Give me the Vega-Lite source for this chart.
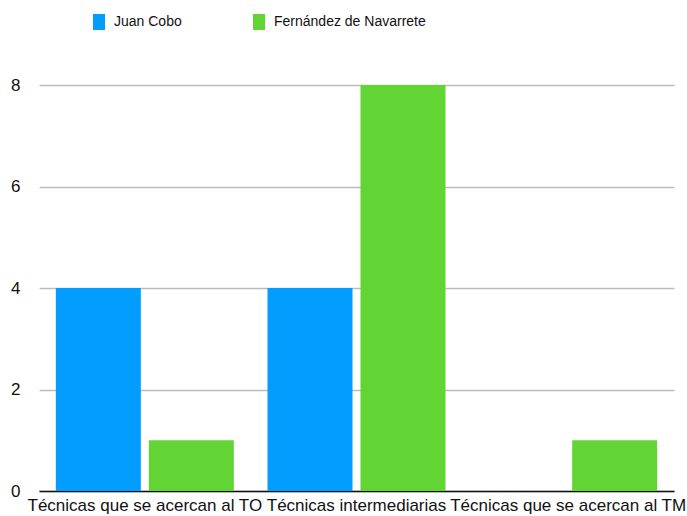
{
  "$schema": "https://vega.github.io/schema/vega-lite/v6.json",
  "width": 635,
  "height": 406,
  "autosize": {"type": "none"},
  "padding": {"left": 39, "top": 85, "right": 13, "bottom": 25},
  "background": "white",
  "data": {
    "values": [
      {"cat": "Técnicas que se acercan al TO", "serie": "Juan Cobo", "valor": 4},
      {"cat": "Técnicas que se acercan al TO", "serie": "Fernández de Navarrete", "valor": 1},
      {"cat": "Técnicas intermediarias", "serie": "Juan Cobo", "valor": 4},
      {"cat": "Técnicas intermediarias", "serie": "Fernández de Navarrete", "valor": 8},
      {"cat": "Técnicas que se acercan al TM", "serie": "Juan Cobo", "valor": 0},
      {"cat": "Técnicas que se acercan al TM", "serie": "Fernández de Navarrete", "valor": 1}
    ]
  },
  "mark": {"type": "bar"},
  "encoding": {
    "x": {
      "field": "cat",
      "type": "nominal",
      "sort": null,
      "title": null,
      "scale": {"paddingInner": 0, "paddingOuter": 0},
      "axis": {
        "labelAngle": 0,
        "labelLimit": 0,
        "labelOverlap": false,
        "labelBound": false,
        "labelFont": "Liberation Sans",
        "labelFontSize": 17,
        "labelColor": "#111",
        "labelPadding": 6,
        "ticks": false,
        "domainColor": "#111",
        "domainWidth": 1.5,
        "grid": false
      }
    },
    "xOffset": {
      "field": "serie",
      "type": "nominal",
      "sort": ["Juan Cobo", "Fernández de Navarrete"],
      "scale": {"paddingInner": 0.086, "paddingOuter": 0.181}
    },
    "y": {
      "field": "valor",
      "type": "quantitative",
      "title": null,
      "scale": {"domain": [0, 8], "nice": false},
      "axis": {
        "values": [0, 2, 4, 6, 8],
        "labelFont": "Liberation Sans",
        "labelFontSize": 17,
        "labelColor": "#111",
        "labelPadding": 19,
        "ticks": false,
        "domain": false,
        "gridColor": "#bbbbbb",
        "gridWidth": 1.5
      }
    },
    "color": {
      "field": "serie",
      "type": "nominal",
      "sort": ["Juan Cobo", "Fernández de Navarrete"],
      "scale": {"domain": ["Juan Cobo", "Fernández de Navarrete"], "range": ["#029DFF", "#62D535"]},
      "legend": {
        "title": null,
        "orient": "none",
        "direction": "horizontal",
        "legendX": 52,
        "legendY": -71,
        "symbolType": "M-0.75,-1H0.75V1H-0.75Z",
        "symbolSize": 256,
        "symbolOpacity": 1,
        "symbolStrokeWidth": 0,
        "labelFont": "Liberation Sans",
        "labelFontSize": 14,
        "labelLimit": 0,
        "labelColor": "#111",
        "labelOffset": 7,
        "columnPadding": 69
      }
    }
  },
  "config": {"view": {"stroke": null}}
}
